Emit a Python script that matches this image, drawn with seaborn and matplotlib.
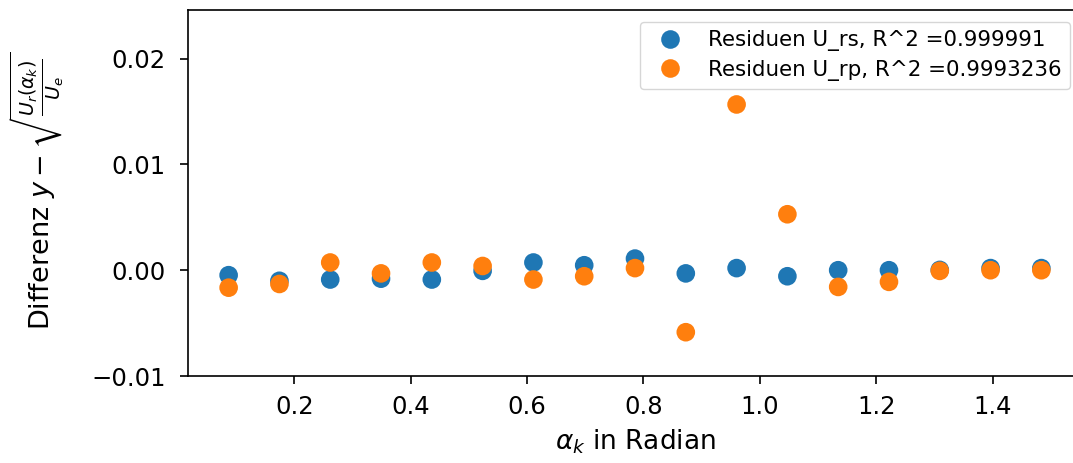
import numpy as np
import pandas as pd
import matplotlib
matplotlib.use("Agg")
import matplotlib.pyplot as plt
import seaborn as sns

# angles 5..85 degrees in radians
alpha_deg = [5, 10, 15, 20, 25, 30, 35, 40, 45, 50, 55, 60, 65, 70, 75, 80, 85]
res_rs = [-0.00047, -0.0010, -0.00088, -0.0008, -0.00088, -0.00006, 0.00073, 0.00047, 0.0011,
          -0.0003, 0.0002, -0.00057, 0.0, 0.0, 0.00003, 0.0002, 0.0002]
res_rp = [-0.00165, -0.0013, 0.00073, -0.0003, 0.00073, 0.0004, -0.00088, -0.00057, 0.0002,
          -0.00586, 0.01567, 0.00529, -0.00158, -0.0011, -0.00006, 0.0, 0.0]
labels = ["Residuen U_rs, R^2 =0.999991", "Residuen U_rp, R^2 =0.9993236"]

alpha = np.deg2rad(alpha_deg)
df = pd.DataFrame({
    "alpha": np.concatenate([alpha, alpha]),
    "res": res_rs + res_rp,
    "series": [labels[0]] * len(alpha) + [labels[1]] * len(alpha),
})

plt.rcParams["font.family"] = ["DejaVu Sans"]
fig = plt.figure(figsize=(10.73, 4.63), dpi=100)
ax = fig.add_axes([188 / 1073, 1 - 376 / 463, (1082 - 188) / 1073, (376 - 10) / 463])
sns.scatterplot(data=df, x="alpha", y="res", hue="series", hue_order=labels,
                palette=["#1f77b4", "#ff7f0e"], s=180, linewidth=0, ax=ax)

ax.set_ylim(-0.01, 0.0246)
ax.set_yticks([-0.01, 0.0, 0.01, 0.02])
ax.set_xticks([0.2, 0.4, 0.6, 0.8, 1.0, 1.2, 1.4])
for sp in ax.spines.values():
    sp.set_linewidth(1.2)
ax.tick_params(axis="both", labelsize=17.5, length=6, width=1.2)
ax.tick_params(axis="x", pad=8)
ax.tick_params(axis="y", pad=10)
ax.set_xlabel(r"$\alpha_k$ in Radian", fontsize=19, labelpad=6)
ax.set_ylabel(r"Differenz $y - \sqrt{\frac{U_r(\alpha_k)}{U_e}}$", fontsize=19.5)
ax.yaxis.set_label_coords(-0.136, 0.505)
ax.yaxis.label.set_va("bottom")
leg = ax.legend(loc="upper right", fontsize=15.4, title=None, labelspacing=0.4,
                borderaxespad=0.55)

fig.savefig("out.png", dpi=100)
